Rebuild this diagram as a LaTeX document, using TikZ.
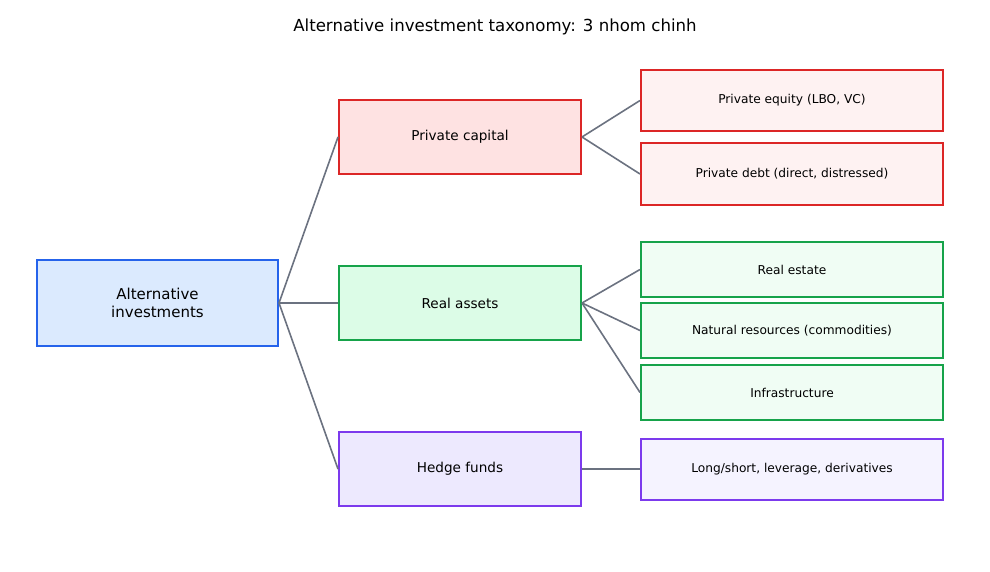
\documentclass[tikz,border=0pt]{standalone}
\usepackage{fontspec}
\setmainfont{DejaVu Sans}
\definecolor{bluebd}{HTML}{2563EB}\definecolor{bluefl}{HTML}{DBEAFE}
\definecolor{redbd}{HTML}{DC2626}\definecolor{redfl}{HTML}{FEE2E2}\definecolor{redlf}{HTML}{FEF2F2}
\definecolor{grnbd}{HTML}{16A34A}\definecolor{grnfl}{HTML}{DCFCE7}\definecolor{grnlf}{HTML}{F0FDF4}
\definecolor{purbd}{HTML}{7C3AED}\definecolor{purfl}{HTML}{EDE9FE}\definecolor{purlf}{HTML}{F5F3FF}
\definecolor{linec}{HTML}{6B7280}
\tikzset{
  box/.style={draw, line width=2pt, inner sep=0pt, align=center, text=black},
  rootbox/.style={box, draw=bluebd, fill=bluefl, minimum width=241pt, minimum height=86pt, font=\fontsize{15}{18}\selectfont},
  midbox/.style={box, minimum width=242pt, minimum height=74pt, font=\fontsize{13.6}{16}\selectfont},
  leafbox/.style={box, minimum width=302pt, font=\fontsize{12.2}{14}\selectfont},
  conn/.style={draw=linec, line width=1.6pt},
}
\begin{document}
\begin{tikzpicture}[x=1pt,y=-1pt]
\useasboundingbox (0,0) rectangle (990,572);
\node[font=\fontsize{16.6}{20}\selectfont] (title) at (495,27) {Alternative investment taxonomy: 3 nhom chinh};
\node[rootbox] (root) at (157.5,303) {Alternative\\investments};
\node[midbox, draw=redbd, fill=redfl] (pc) at (460,137) {Private capital};
\node[midbox, draw=grnbd, fill=grnfl] (ra) at (460,303) {Real assets};
\node[midbox, draw=purbd, fill=purfl] (hf) at (460,469) {Hedge funds};
\node[leafbox, draw=redbd, fill=redlf, minimum height=61pt] (pe) at (792,100.5) {Private equity (LBO, VC)};
\node[leafbox, draw=redbd, fill=redlf, minimum height=62pt] (pd) at (792,174) {Private debt (direct, distressed)};
\node[leafbox, draw=grnbd, fill=grnlf, minimum height=55pt] (re) at (792,269.5) {Real estate};
\node[leafbox, draw=grnbd, fill=grnlf, minimum height=55pt] (nr) at (792,330.5) {Natural resources (commodities)};
\node[leafbox, draw=grnbd, fill=grnlf, minimum height=55pt] (inf) at (792,392.5) {Infrastructure};
\node[leafbox, draw=purbd, fill=purlf, minimum height=61pt] (ls) at (792,469) {Long/short, leverage, derivatives};
\draw[conn] (root.east) -- (pc.west);
\draw[conn] (root.east) -- (ra.west);
\draw[conn] (root.east) -- (hf.west);
\draw[conn] (pc.east) -- (pe.west);
\draw[conn] (pc.east) -- (pd.west);
\draw[conn] (ra.east) -- (re.west);
\draw[conn] (ra.east) -- (nr.west);
\draw[conn] (ra.east) -- (inf.west);
\draw[conn] (hf.east) -- (ls.west);
\end{tikzpicture}
\end{document}
